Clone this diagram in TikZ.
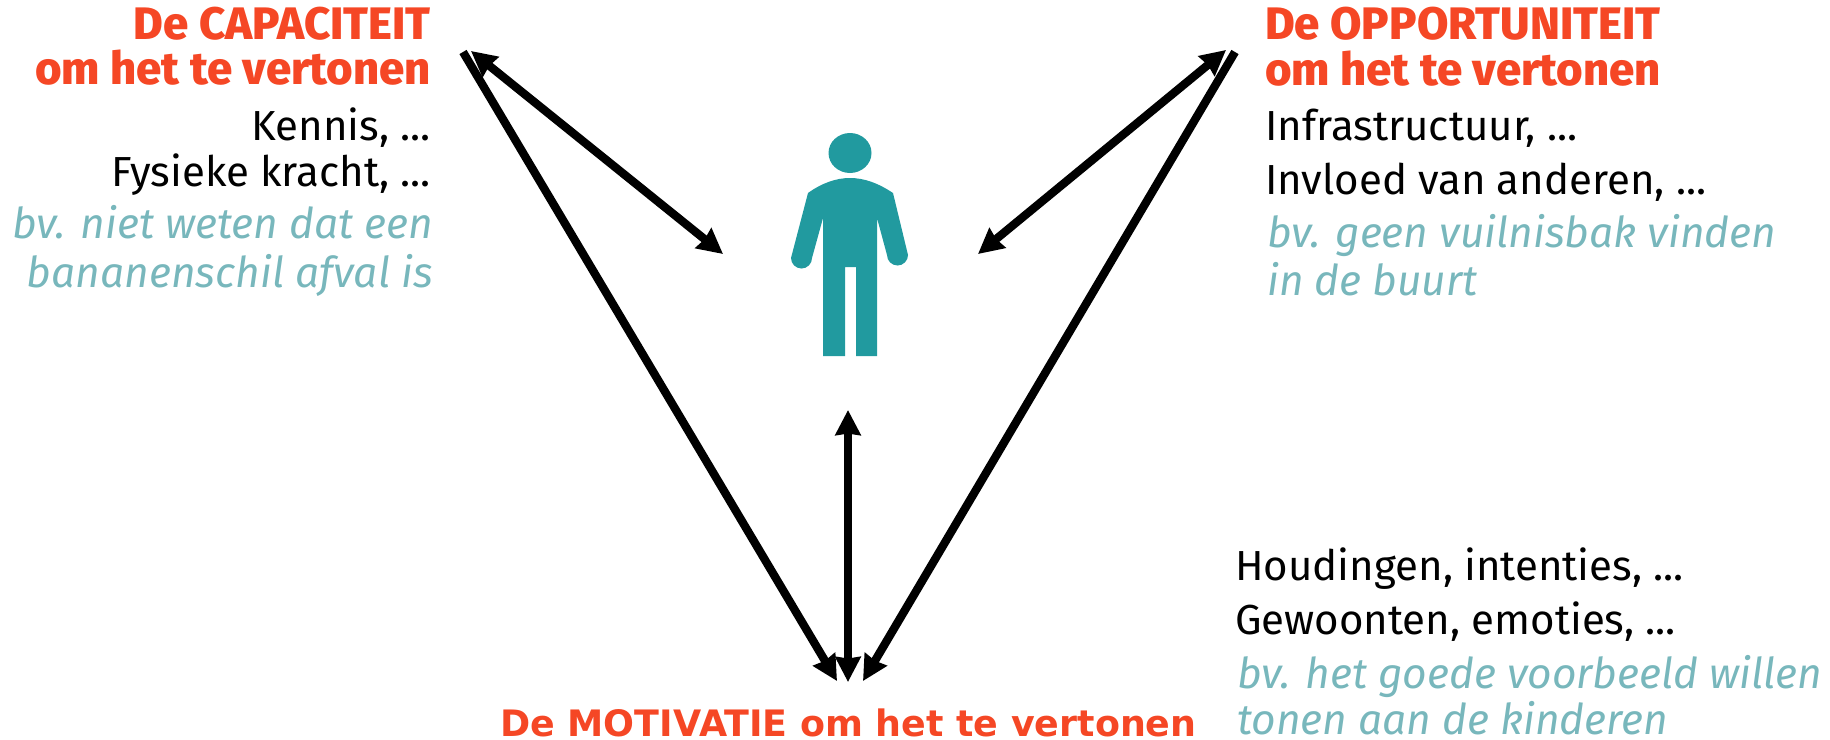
\documentclass[tikz,border=0pt]{standalone}
\usepackage{fontspec}
\setmainfont[BoldFont={Fira Sans ExtraBold}]{Fira Sans}
\newfontfamily\motivfont{DejaVu Sans}
\usepackage{tikz}
\usetikzlibrary{positioning, arrows.meta}
\definecolor{kop}{HTML}{F54725}
\definecolor{voorbeeld}{HTML}{78B7BC}
\definecolor{figuur}{HTML}{219A9F}

\begin{document}
\begin{tikzpicture}[x=1pt, y=-1pt, >={Stealth[length=25pt, width=25pt, inset=1.5pt]},
    pijl/.style={black, line width=8.3pt},
    kopje/.style={text=kop, font=\fontsize{45.5}{54}\selectfont\bfseries, inner sep=0pt},
    regel/.style={text=black, font=\fontsize{42}{50}\selectfont, inner sep=0pt},
    voorbeeldregel/.style={text=voorbeeld, font=\fontsize{42.5}{50}\selectfont\itshape, inner sep=0pt}]

        \useasboundingbox (0,0) rectangle (1830,739);

        % De capaciteit
        \node[kopje, anchor=base east] (capaciteit) at (431,39) {De CAPACITEIT};
        \node[kopje, anchor=base east] (capaciteitTwee) at (431,84) {om het te vertonen};
        \node[regel, anchor=base east] (kennis) at (431,140) {Kennis, ...};
        \node[regel, anchor=base east] (kracht) at (431,186) {Fysieke kracht, ...};
        \node[voorbeeldregel, anchor=base east] (nietWeten) at (433,238) {bv. niet weten dat een};
        \node[voorbeeldregel, anchor=base east] (schil) at (433,287) {bananenschil afval is};

        % De opportuniteit
        \node[kopje, anchor=base west] (opportuniteit) at (1265,39) {De OPPORTUNITEIT};
        \node[kopje, anchor=base west] (opportuniteitTwee) at (1265,85) {om het te vertonen};
        \node[regel, anchor=base west] (infra) at (1265,140) {Infrastructuur, ...};
        \node[regel, anchor=base west] (invloed) at (1265,194) {Invloed van anderen, ...};
        \node[voorbeeldregel, anchor=base west] (vuilnisbak) at (1267,247) {bv. geen vuilnisbak vinden};
        \node[voorbeeldregel, anchor=base west] (buurt) at (1267,295) {in de buurt};

        % De motivatie
        \node[kopje, anchor=base west, font=\fontsize{36.4}{44}\selectfont\motivfont\bfseries] (motivatie) at (500,736) {De MOTIVATIE om het te vertonen};
        \node[regel, anchor=base west] (houdingen) at (1235,580) {Houdingen, intenties, ...};
        \node[regel, anchor=base west] (gewoonten) at (1235,634) {Gewoonten, emoties, ...};
        \node[voorbeeldregel, anchor=base west] (goedeVoorbeeld) at (1237,688) {bv. het goede voorbeeld willen};
        \node[voorbeeldregel, anchor=base west] (kinderen) at (1237,734) {tonen aan de kinderen};

        % Persoon
        \fill[figuur] (850,153) ellipse (21.5 and 20);
        \fill[figuur] (808,193) .. controls (822,183) and (836,178) .. (850,178) .. controls (864,178) and (878,183) .. (893,193)
            -- (908,255) arc (0:180:10.5) -- (877,218) -- (877,356) -- (856,356) -- (856,267) -- (845,267) -- (845,356) -- (823,356) -- (823,218)
            -- (812,258) arc (0:180:10.5) -- cycle;

        % Eindpunten van de pijlen
        \coordinate (capaciteitLang) at (463,52);
        \coordinate (capaciteitKort) at (471,51);
        \coordinate (persoonLinks) at (723,254);
        \coordinate (opportuniteitLang) at (1235,52);
        \coordinate (opportuniteitKort) at (1226,50);
        \coordinate (persoonRechts) at (978,254);
        \coordinate (persoonOnder) at (848,410);
        \coordinate (motivatieLinks) at (837,681);
        \coordinate (motivatieMidden) at (848,682);
        \coordinate (motivatieRechts) at (863,681);

        % Pijlen
        \draw[pijl, ->] (capaciteitLang) -- (motivatieLinks);
        \draw[pijl, <->] (capaciteitKort) -- (persoonLinks);
        \draw[pijl, <->] (opportuniteitKort) -- (persoonRechts);
        \draw[pijl, ->] (opportuniteitLang) -- (motivatieRechts);
        \draw[pijl, <->] (persoonOnder) -- (motivatieMidden);

    \end{tikzpicture}
\end{document}
